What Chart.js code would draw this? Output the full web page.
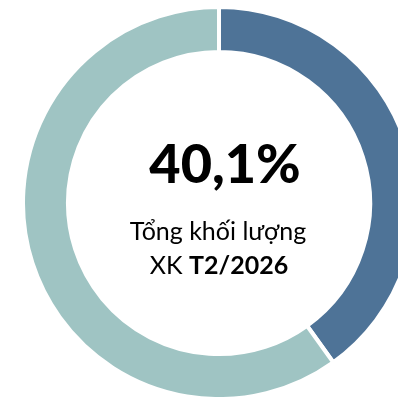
<!DOCTYPE html>
<html>
<head>
<meta charset="utf-8">
<script src="https://cdn.jsdelivr.net/npm/chart.js@4"></script>
<style>
    html, body { margin: 0; padding: 0; background: #fff; overflow: hidden; }
    #wrap { width: 398px; height: 397px; overflow: hidden; }
</style>
</head>
<body>
<div id="wrap"><canvas id="donut" width="440" height="397"></canvas></div>
<script>
    // ty trong xuat khau
    const labels = ['T2/2026', 'Còn lại'];
    const values = [40.1, 59.9];
    const colors = ['#4E7397', '#9FC4C3'];
    // chu o giua vong
    const centerValue = '40,1%';
    const centerLine1 = 'Tổng khối lượng';
    const centerLine2a = 'XK ';
    const centerLine2b = 'T2/2026';

    const fontName = 'Lato, "Noto Sans", sans-serif';

    // ve chu vao giua doughnut
    const centerText = {
        id: 'centerText',
        afterDraw(chart) {
            const ctx = chart.ctx;
            const meta = chart.getDatasetMeta(0);
            const cx = meta.data[0].x;
            const cy = meta.data[0].y;
            ctx.save();
            ctx.fillStyle = '#000';
            ctx.textBaseline = 'alphabetic';
            ctx.textAlign = 'center';
            ctx.font = '900 54px ' + fontName;
            ctx.fillText(centerValue, cx + 6, cy - 20);
            ctx.font = '25px ' + fontName;
            ctx.fillText(centerLine1, cx - 1, cy + 37);
            // dong 2: mot phan thuong, mot phan dam
            ctx.textAlign = 'left';
            ctx.font = '25px ' + fontName;
            const w1 = ctx.measureText(centerLine2a).width;
            ctx.font = 'bold 25px ' + fontName;
            const w2 = ctx.measureText(centerLine2b).width;
            let x = cx - (w1 + w2) / 2;
            ctx.font = '25px ' + fontName;
            ctx.fillText(centerLine2a, x, cy + 71);
            ctx.font = 'bold 25px ' + fontName;
            ctx.fillText(centerLine2b, x + w1, cy + 71);
            ctx.restore();
        }
    };

    const chart = new Chart(document.getElementById('donut'), {
        type: 'doughnut',
        data: {
            labels: labels,
            datasets: [{
                data: values,
                backgroundColor: colors,
                borderColor: '#ffffff',
                borderWidth: 4,
                radius: 196,
                cutout: 148
            }]
        },
        options: {
            responsive: false,
            animation: false,
            layout: { padding: { left: 25, top: 9, right: 27, bottom: 0 } },
            plugins: {
                legend: { display: false },
                tooltip: { enabled: false }
            }
        },
        plugins: [centerText]
    });
</script>
</body>
</html>
